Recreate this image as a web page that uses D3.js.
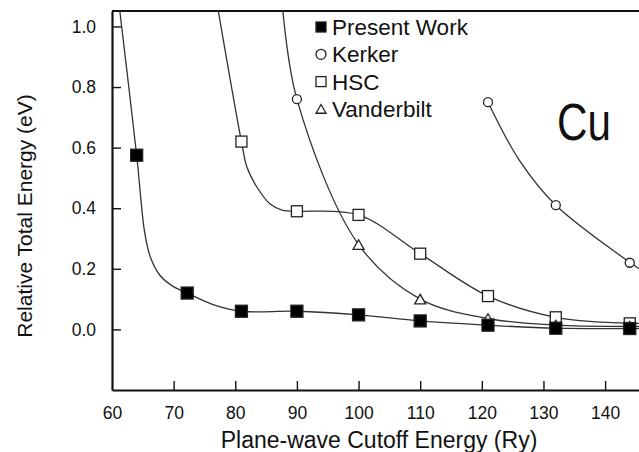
<!DOCTYPE html>
<html>
<head>
<meta charset="utf-8">
<script src="https://cdn.jsdelivr.net/npm/d3@7"></script>
<style>
  body { margin: 0; background: #fff; }
  text { font-family: "Liberation Sans", Arial, Helvetica, sans-serif; fill: #111; }
</style>
</head>
<body>
<script>
// marker data (cutoff in Ry, relative energy in eV)
const xTicks = [60, 70, 80, 90, 100, 110, 120, 130, 140];
const yTicks = [0.0, 0.2, 0.4, 0.6, 0.8, 1.0];

const presentPts = [[64, 0.575], [72.2, 0.12], [81, 0.06], [90, 0.06], [100, 0.048], [110, 0.028], [121, 0.014], [132, 0.004], [144, 0.003]];
const kerkerPts = [[90, 0.76], [121, 0.75], [132, 0.41], [144, 0.22]];
const hscPts = [[81, 0.62], [90, 0.39], [100, 0.378], [110, 0.25], [121, 0.11], [132, 0.04], [144, 0.02]];
const vanderPts = [[100, 0.28], [110, 0.1], [121, 0.036], [132, 0.014], [144, 0.01]];

// curves (they run off the top of the frame)
const presentLine = [[61.1, 1.08], [64, 0.575], [65.3, 0.32], [66.2, 0.24], [67.8, 0.178], [69.9, 0.142], [72.2, 0.12], [76.4, 0.082], [81, 0.06], [90, 0.06], [100, 0.048], [110, 0.028], [121, 0.014], [132, 0.004], [145.5, 0.003]];
const kerkerLine = [[121, 0.75], [126.1, 0.558], [132, 0.41], [145.5, 0.2]];
const hscLine = [[77, 1.08], [81, 0.62], [81.9, 0.535], [83.5, 0.47], [85.6, 0.415], [87.7, 0.393], [90, 0.39], [100, 0.378], [110, 0.25], [121, 0.11], [132, 0.04], [145.5, 0.02]];
const vanderLine = [[87.6, 1.08], [90, 0.76], [100, 0.28], [110, 0.1], [121, 0.036], [132, 0.014], [145.5, 0.01]];

const legendItems = ["Present Work", "Kerker", "HSC", "Vanderbilt"];
const legendSymbols = ["filled", "circle", "square", "triangle"];

const W = 639, H = 452;
const margin = { left: 112, top: 11, right: 0, bottom: 62 };

const svg = d3.select("body").append("svg")
    .attr("width", W)
    .attr("height", H);

const x = d3.scaleLinear().domain([60, 145.5]).range([margin.left, W - margin.right]);
const y = d3.scaleLinear().domain([-0.2, 1.051]).range([H - margin.bottom, margin.top]);

svg.append("clipPath").attr("id", "plot")
    .append("rect")
    .attr("x", margin.left).attr("y", margin.top)
    .attr("width", W - margin.left).attr("height", H - margin.bottom - margin.top);

// axes
const xAxis = svg.append("g")
    .attr("transform", `translate(0,${H - margin.bottom})`)
    .call(d3.axisBottom(x).tickValues(xTicks).tickSizeInner(-9).tickSizeOuter(0).tickPadding(17));
const yAxis = svg.append("g")
    .attr("transform", `translate(${margin.left},0)`)
    .call(d3.axisLeft(y).tickValues(yTicks).tickFormat(d3.format(".1f")).tickSizeInner(-9).tickSizeOuter(0).tickPadding(16));

[xAxis, yAxis].forEach(g => {
    g.select(".domain").attr("stroke", "#111").attr("stroke-width", 2.2);
    g.selectAll(".tick line").attr("stroke", "#111").attr("stroke-width", 1.4);
    g.selectAll(".tick text").attr("font-size", 17.5).attr("fill", "#222")
        .style("font-family", "'Liberation Sans', Arial, sans-serif");
});
xAxis.selectAll(".tick").filter(d => d === 60).select("line").remove();

svg.append("line")
    .attr("x1", margin.left).attr("x2", W)
    .attr("y1", margin.top).attr("y2", margin.top)
    .attr("stroke", "#111").attr("stroke-width", 2.2);

// curves
const line = d3.line()
    .x(d => x(d[0]))
    .y(d => y(d[1]))
    .curve(d3.curveCatmullRom.alpha(0.5));

const curves = svg.append("g").attr("clip-path", "url(#plot)");
[presentLine, kerkerLine, hscLine, vanderLine].forEach(pts => {
    curves.append("path")
        .attr("d", line(pts))
        .attr("fill", "none")
        .attr("stroke", "#333")
        .attr("stroke-width", 1.3);
});

// symbols
function drawSymbol(g, type, cx, cy, s) {
    if (type === "filled" || type === "square") {
        g.append("rect")
            .attr("x", cx - s / 2).attr("y", cy - s / 2)
            .attr("width", s).attr("height", s)
            .attr("fill", type === "filled" ? "#000" : "#fff")
            .attr("stroke", "#222").attr("stroke-width", 1.3);
    } else if (type === "circle") {
        g.append("circle")
            .attr("cx", cx).attr("cy", cy).attr("r", s / 2)
            .attr("fill", "#fff").attr("stroke", "#222").attr("stroke-width", 1.3);
    } else {
        const h = s * 0.87;
        g.append("path")
            .attr("d", `M${cx},${cy - h / 2}L${cx + s / 2},${cy + h / 2}L${cx - s / 2},${cy + h / 2}Z`)
            .attr("fill", "#fff").attr("stroke", "#222").attr("stroke-width", 1.3);
    }
}

const marks = svg.append("g");
hscPts.forEach(d => drawSymbol(marks, "square", x(d[0]), y(d[1]), 11));
vanderPts.forEach(d => drawSymbol(marks, "triangle", x(d[0]), y(d[1]), 11));
kerkerPts.forEach(d => drawSymbol(marks, "circle", x(d[0]), y(d[1]), 9));
presentPts.forEach(d => drawSymbol(marks, "filled", x(d[0]), y(d[1]), 12));

// legend
const legend = svg.append("g");
legendItems.forEach((name, i) => {
    const cy = 27 + i * 27.3;
    drawSymbol(legend, legendSymbols[i], 321, cy, 10);
    legend.append("text")
        .attr("x", 332).attr("y", cy + 8)
        .attr("font-size", 22.5)
        .text(name);
});

svg.append("text")
    .attr("x", 557).attr("y", 140)
    .attr("font-size", 51)
    .attr("textLength", 54)
    .attr("lengthAdjust", "spacingAndGlyphs")
    .text("Cu");

// axis titles
svg.append("text")
    .attr("transform", `translate(32,216) rotate(-90)`)
    .attr("text-anchor", "middle")
    .attr("font-size", 21)
    .text("Relative Total Energy (eV)");

svg.append("text")
    .attr("x", 379).attr("y", 448)
    .attr("text-anchor", "middle")
    .attr("font-size", 23)
    .text("Plane-wave Cutoff Energy (Ry)");
</script>
</body>
</html>
